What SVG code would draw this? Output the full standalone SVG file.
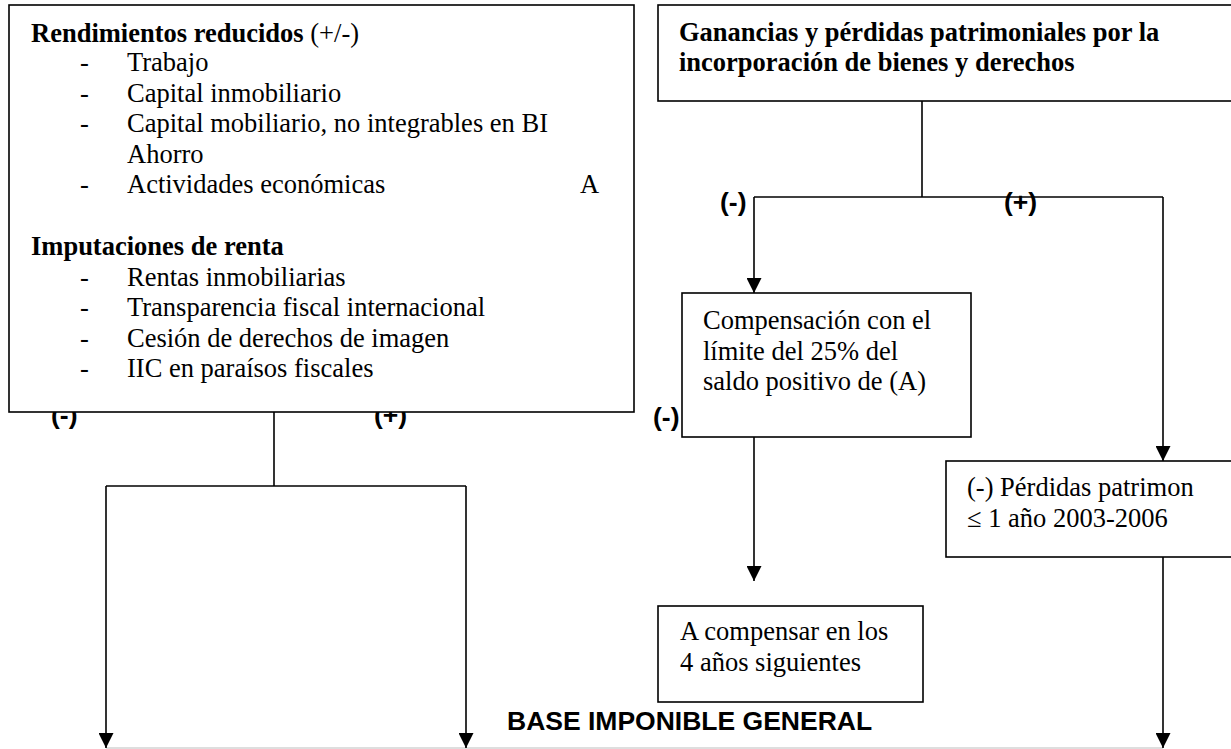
<svg xmlns="http://www.w3.org/2000/svg" width="1231" height="749" viewBox="0 0 1231 749">
<style>
.box{fill:#fff;stroke:#000;stroke-width:1.6}
.t{font-family:"Liberation Serif","Times New Roman",serif;font-size:26.5px;fill:#000}
.b{font-weight:bold}
.lbl{font-family:"Liberation Sans",Arial,sans-serif;font-size:26.5px;font-weight:bold;fill:#000}
.ln{fill:none;stroke:#000;stroke-width:1.6}
</style>
<defs>
<marker id="ah" viewBox="0 0 15 15" refX="15" refY="7.5" markerWidth="15" markerHeight="15" markerUnits="userSpaceOnUse" orient="auto">
<path d="M0,0 L15,7.5 L0,15 z" fill="#000"/>
</marker>
</defs>
<rect width="1231" height="749" fill="#fff"/>
<g id="labels-under">
<text class="lbl" x="51" y="424">(-)</text>
<text class="lbl" x="374" y="424">(+)</text>
</g>
<g id="connectors">
<path d="M106,748 H1163" style="fill:none;stroke:#bdbdbd;stroke-width:1.2"/>
<path class="ln" d="M274,412 V486"/>
<path class="ln" d="M106,486 H466"/>
<path class="ln" d="M106,486 V748" marker-end="url(#ah)"/>
<path class="ln" d="M466,486 V748" marker-end="url(#ah)"/>
<path class="ln" d="M922,101 V197"/>
<path class="ln" d="M754,197 H1163"/>
<path class="ln" d="M754,197 V293" marker-end="url(#ah)"/>
<path class="ln" d="M1163,197 V461" marker-end="url(#ah)"/>
<path class="ln" d="M754,437 V581" marker-end="url(#ah)"/>
<path class="ln" d="M1163,557 V748" marker-end="url(#ah)"/>
</g>
<g id="rendimientos">
<rect class="box" x="9" y="5" width="625" height="407"/>
<text class="t" x="31" y="42"><tspan class="b">Rendimientos reducidos</tspan> (+/-)</text>
<text class="t" x="80" y="71">-</text><text class="t" x="127" y="71">Trabajo</text>
<text class="t" x="80" y="102">-</text><text class="t" x="127" y="102">Capital inmobiliario</text>
<text class="t" x="80" y="132">-</text><text class="t" x="127" y="132">Capital mobiliario, no integrables en BI</text>
<text class="t" x="127" y="163">Ahorro</text>
<text class="t" x="80" y="193">-</text><text class="t" x="127" y="193">Actividades económicas</text>
<text class="t" x="580" y="193">A</text>
<text class="t b" x="31" y="255">Imputaciones de renta</text>
<text class="t" x="80" y="286">-</text><text class="t" x="127" y="286">Rentas inmobiliarias</text>
<text class="t" x="80" y="316">-</text><text class="t" x="127" y="316">Transparencia fiscal internacional</text>
<text class="t" x="80" y="347">-</text><text class="t" x="127" y="347">Cesión de derechos de imagen</text>
<text class="t" x="80" y="377">-</text><text class="t" x="127" y="377">IIC en paraísos fiscales</text>
</g>
<g id="ganancias">
<rect class="box" x="658" y="5" width="590" height="96"/>
<text class="t b" x="679" y="41">Ganancias y pérdidas patrimoniales por la</text>
<text class="t b" x="679" y="71">incorporación de bienes y derechos</text>
</g>
<g id="compensacion">
<rect class="box" x="682" y="293" width="289" height="144"/>
<text class="t" x="703" y="329">Compensación con el</text>
<text class="t" x="703" y="360">límite del 25% del</text>
<text class="t" x="703" y="390">saldo positivo de (A)</text>
</g>
<g id="perdidas">
<rect class="box" x="946" y="461" width="300" height="96"/>
<text class="t" x="967" y="496">(-) Pérdidas patrimon</text>
<text class="t" x="967" y="527">≤ 1 año 2003-2006</text>
</g>
<g id="a-compensar">
<rect class="box" x="658" y="606" width="265" height="96"/>
<text class="t" x="680" y="640">A compensar en los</text>
<text class="t" x="680" y="671">4 años siguientes</text>
</g>
<g id="edge-labels">
<text class="lbl" x="720" y="211">(-)</text>
<text class="lbl" x="1004" y="211">(+)</text>
<text class="lbl" x="653" y="426">(-)</text>
</g>
<g id="base">
<text class="lbl" x="507" y="730">BASE IMPONIBLE GENERAL</text>
</g>
</svg>
